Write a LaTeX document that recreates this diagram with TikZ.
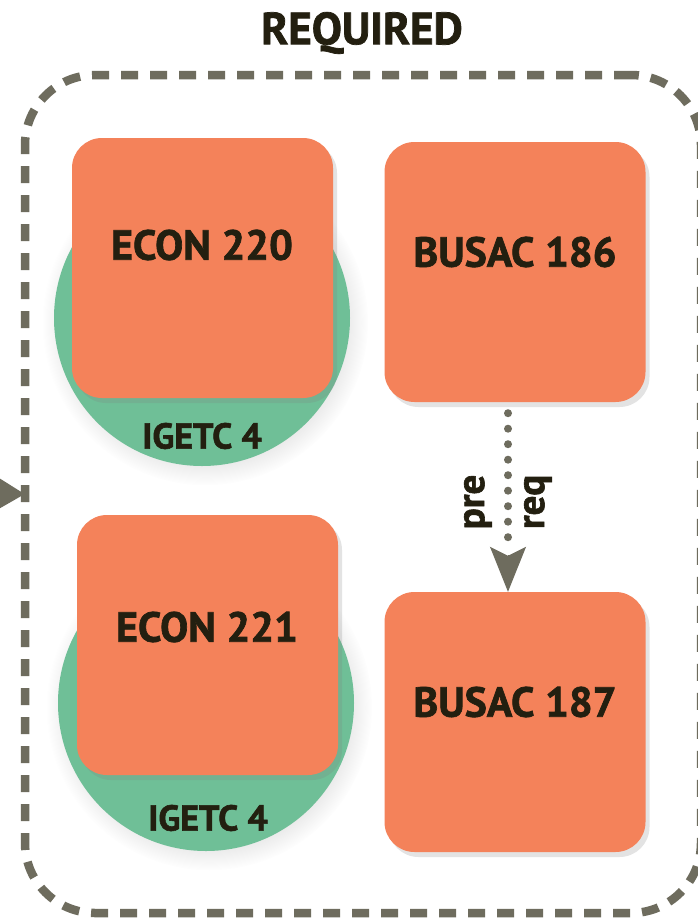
\documentclass[tikz,border=0pt]{standalone}
\usepackage{fontspec}
\setmainfont{PT Sans}[BoldFeatures={FakeBold=1.6}]
\usetikzlibrary{arrows.meta,shadows}
\definecolor{boxorange}{HTML}{F4825A}
\definecolor{circgreen}{HTML}{6FBF97}
\definecolor{dashgray}{HTML}{6E6C5E}
\definecolor{inkdark}{HTML}{231F10}
\tikzset{
  course/.style={fill=boxorange, draw=none, rounded corners=30pt, minimum width=261pt, minimum height=260pt, inner sep=0pt,
    drop shadow={shadow xshift=4pt, shadow yshift=-5pt, opacity=0.22}},
  igetc/.style={circle, fill=circgreen, draw=none, minimum size=296pt, inner sep=0pt,
    circular drop shadow={shadow xshift=3pt, shadow yshift=-4pt, opacity=0.18}},
  ctext/.style={text=inkdark, font=\bfseries\fontsize{42}{46}\selectfont, inner sep=0pt},
  gtext/.style={text=inkdark, font=\bfseries\fontsize{36}{40}\selectfont, inner sep=0pt},
  ltext/.style={text=inkdark, font=\bfseries\fontsize{39}{42}\selectfont, inner sep=0pt, rotate=90},
  container/.style={draw=dashgray, line width=8.5pt, dash pattern=on 17pt off 12pt, rounded corners=70pt,
    minimum width=676pt, minimum height=838pt, inner sep=0pt},
}
\begin{document}
\begin{tikzpicture}[x=1pt,y=-1pt]
\clip (0,0) rectangle (698,921);
\fill[white] (0,0) rectangle (698,921);
% title and container
\node[text=inkdark, font=\bfseries\fontsize{45}{48}\selectfont, inner sep=0pt] (title) at (362,33) {REQUIRED};
\node[container] (req) at (363,494) {};
\coordinate (inflow) at (-30,493);
\draw[dashgray, line width=4pt, -{Triangle[length=26pt,width=30pt]}, shorten >=-4pt] (inflow) -- (req.west);
% circles
\node[igetc] (c1) at (202,318) {};
\node[igetc] (c2) at (206,703) {};
% course boxes
\node[course] (e220) at (202.5,268) {};
\node[course] (b186) at (515,272) {};
\node[course] (e221) at (207.5,645) {};
\node[course] (b187) at (515,722) {};
% texts
\node[ctext] (t220) at (202,245) {ECON 220};
\node[ctext] (t186) at (515,252) {BUSAC 186};
\node[ctext] (t221) at (207,627) {ECON 221};
\node[ctext] (t187) at (515,702) {BUSAC 187};
\node[gtext] (g1) at (202,436) {IGETC 4};
\node[gtext] (g2) at (208,818) {IGETC 4};
% prereq arrow
\draw[dashgray, line width=8pt, line cap=round, dash pattern=on 0pt off 15.5pt, shorten <=11pt, shorten >=52pt] (b186.south -| 508,0) -- (b187.north -| 508,0);
\draw[dashgray, line width=1pt, -{Stealth[length=45pt,width=36pt,inset=9pt]}] (508,555) -- (b187.north -| 508,0);
\node[ltext] (pre) at (478,502) {pre};
\node[ltext] (rq) at (538,502) {req};
\end{tikzpicture}
\end{document}
